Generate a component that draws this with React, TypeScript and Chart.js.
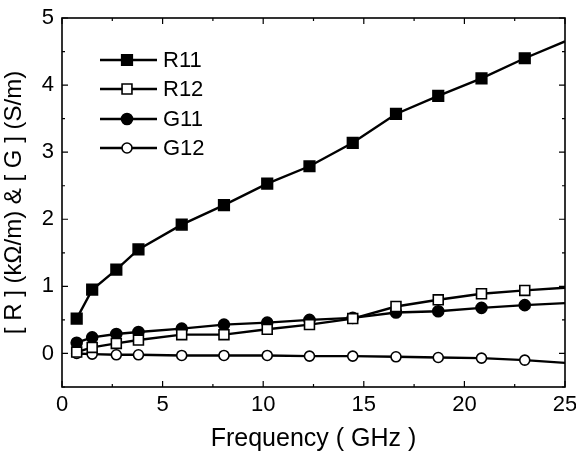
import React, { useEffect, useRef } from "react";
import { Chart, registerables } from "chart.js";

Chart.register(...registerables);

const freq = [0.73, 1.5, 2.7, 3.8, 5.95, 8.05, 10.2, 12.3, 14.45, 16.6, 18.7, 20.85, 23.0, 25];
const R11 = [0.52, 0.95, 1.25, 1.55, 1.92, 2.21, 2.53, 2.79, 3.14, 3.57, 3.84, 4.1, 4.4, 4.65];
const R12 = [0.02, 0.09, 0.15, 0.2, 0.28, 0.28, 0.36, 0.43, 0.52, 0.7, 0.8, 0.89, 0.94, 0.98];
const G11 = [0.16, 0.24, 0.29, 0.32, 0.37, 0.43, 0.46, 0.5, 0.53, 0.61, 0.63, 0.68, 0.72, 0.75];
const G12 = [0.0, -0.01, -0.02, -0.02, -0.03, -0.03, -0.03, -0.04, -0.04, -0.05, -0.06, -0.07, -0.1, -0.14];

const seriesNames = ["R11", "R12", "G11", "G12"];
const xTitle = "Frequency ( GHz )";
const yTitle = "[ R ] (kΩ/m) & [ G ] (S/m)";

const FONT = "'Liberation Sans', Arial, sans-serif";

function pts(ys: number[]) {
  return freq.map((x, i) => ({ x, y: ys[i] }));
}
function radii(r: number) {
  return freq.map((_, i) => (i === freq.length - 1 ? 0 : r));
}

const styles = [
  { pointStyle: "rect", fill: "#000", r: 7.5 },
  { pointStyle: "rect", fill: "#fff", r: 7 },
  { pointStyle: "circle", fill: "#000", r: 5.5 },
  { pointStyle: "circle", fill: "#fff", r: 5 },
];

const framePlugin = {
  id: "frameTicks",
  afterDraw(chart: any) {
    const { ctx, chartArea: a, scales } = chart;
    const xs = scales.x;
    const ys = scales.y;
    ctx.save();
    ctx.strokeStyle = "#000";
    ctx.lineWidth = 1.6;
    ctx.strokeRect(a.left, a.top, a.right - a.left, a.bottom - a.top);
    ctx.lineWidth = 1.2;
    ctx.beginPath();
    for (let v = 0; v <= 25.001; v += 2.5) {
      const px = xs.getPixelForValue(v);
      const len = Math.abs(v / 5 - Math.round(v / 5)) < 1e-6 ? 6 : 3;
      ctx.moveTo(px, a.bottom);
      ctx.lineTo(px, a.bottom - len);
      ctx.moveTo(px, a.top);
      ctx.lineTo(px, a.top + len);
    }
    for (let v = -0.5; v <= 5.001; v += 0.5) {
      const py = ys.getPixelForValue(v);
      const len = Math.abs(v - Math.round(v)) < 1e-6 ? 6 : 3;
      ctx.moveTo(a.left, py);
      ctx.lineTo(a.left + len, py);
      ctx.moveTo(a.right, py);
      ctx.lineTo(a.right - len, py);
    }
    ctx.stroke();

    // legend
    const lx0 = 100, lx1 = 157, mx = 127, tx = 163;
    const rows = [60, 89, 119, 148];
    ctx.font = `22px ${FONT}`;
    ctx.textBaseline = "middle";
    ctx.fillStyle = "#000";
    chart.data.datasets.forEach((ds: any, i: number) => {
      const y = rows[i];
      const st = styles[i];
      ctx.lineWidth = 2.4;
      ctx.strokeStyle = "#000";
      ctx.beginPath();
      ctx.moveTo(lx0, y);
      ctx.lineTo(lx1, y);
      ctx.stroke();
      ctx.beginPath();
      if (st.pointStyle === "rect") {
        const h = st.r * Math.SQRT1_2;
        ctx.rect(mx - h, y - h, 2 * h, 2 * h);
      } else {
        ctx.arc(mx, y, st.r, 0, Math.PI * 2);
      }
      ctx.fillStyle = st.fill;
      ctx.fill();
      ctx.lineWidth = 1.6;
      ctx.stroke();
      ctx.fillStyle = "#000";
      ctx.fillText(ds.label, tx, y + 1);
    });
    ctx.restore();
  },
};

export default function App() {
  const ref = useRef<HTMLCanvasElement>(null);
  useEffect(() => {
    if (!ref.current) return;
    const series = [R11, R12, G11, G12];
    const chart = new Chart(ref.current, {
      type: "line",
      data: {
        datasets: series.map((s, i) => ({
          label: seriesNames[i],
          data: pts(s),
          borderColor: "#000",
          borderWidth: 2.4,
          pointStyle: styles[i].pointStyle as any,
          pointRadius: radii(styles[i].r),
          pointBackgroundColor: styles[i].fill,
          pointBorderColor: "#000",
          pointBorderWidth: 1.6,
          tension: 0,
        })),
      },
      options: {
        responsive: false,
        animation: false,
        parsing: false as any,
        layout: { padding: { top: 18, right: 11, left: 0, bottom: 0 } },
        plugins: { legend: { display: false }, tooltip: { enabled: false } },
        scales: {
          x: {
            type: "linear",
            min: 0,
            max: 25,
            grid: { display: false, drawTicks: false },
            border: { display: false },
            ticks: {
              stepSize: 5,
              padding: 5,
              color: "#000",
              maxRotation: 0,
              font: { family: FONT, size: 22 },
            },
            title: {
              display: true,
              text: xTitle,
              color: "#000",
              font: { family: FONT, size: 25 },
              padding: { top: 3, bottom: 0 },
            },
            afterFit: (s: any) => {
              s.height = 67;
              s.paddingLeft = 0;
              s.paddingRight = 0;
            },
          },
          y: {
            type: "linear",
            min: -0.5,
            max: 5,
            grid: { display: false, drawTicks: false },
            border: { display: false },
            ticks: {
              stepSize: 0.5,
              padding: 8,
              color: "#000",
              font: { family: FONT, size: 22 },
              callback: (v: any) => (Math.abs(v - Math.round(v)) < 1e-6 ? String(Math.round(v)) : ""),
            },
            title: {
              display: true,
              text: yTitle,
              color: "#000",
              font: { family: FONT, size: 24 },
              padding: { top: 0, bottom: 0 },
            },
            afterFit: (s: any) => {
              s.width = 62;
              s.paddingTop = 0;
              s.paddingBottom = 0;
            },
          },
        },
      },
      plugins: [framePlugin],
    });
    return () => chart.destroy();
  }, []);
  return (
    <div style={{ position: "absolute", left: 0, top: 0, width: 576, height: 454, background: "#fff" }}>
      <canvas ref={ref} width={576} height={454} />
    </div>
  );
}
